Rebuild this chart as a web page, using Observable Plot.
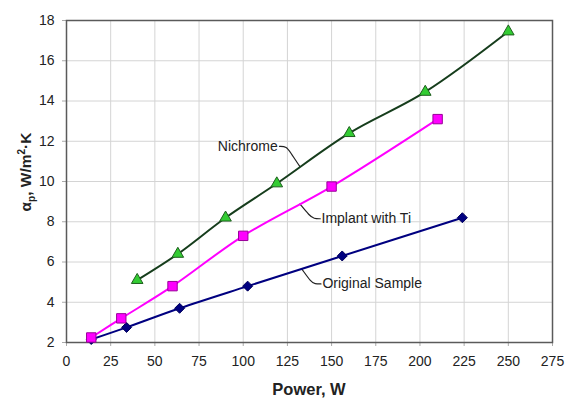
<!DOCTYPE html>
<html>
<head>
<meta charset="utf-8">
<script src="https://cdn.jsdelivr.net/npm/d3@7"></script>
<script src="https://cdn.jsdelivr.net/npm/@observablehq/plot@0.6"></script>
<style>
  html, body { margin: 0; padding: 0; background: #fff; }
</style>
</head>
<body>
<div id="chart"></div>
<script>
// Heat transfer coefficient vs. heating power for three samples
const powerOriginal = [14, 34, 64, 102.5, 156, 224];
const alphaOriginal = [2.15, 2.75, 3.7, 4.8, 6.3, 8.2];

const powerImplant = [14, 31, 60, 100, 150, 210];
const alphaImplant = [2.25, 3.2, 4.8, 7.3, 9.75, 13.1];

const powerNichrome = [40, 63, 90, 119, 160, 203, 250];
const alphaNichrome = [5.1, 6.4, 8.2, 9.9, 12.4, 14.45, 17.45];

const xTicks = [0, 25, 50, 75, 100, 125, 150, 175, 200, 225, 250, 275];
const yTicks = [2, 4, 6, 8, 10, 12, 14, 16, 18];

// Callout labels and their leader lines (data units)
const calloutText = ["Nichrome", "Implant with Ti", "Original Sample"];
const calloutX = [119.5, 144.3, 144.8];
const calloutY = [11.75, 8.15, 4.91];
const leaderX = [
  [120.5, 124.5, 127, 132],
  [132.1, 137.5, 140, 143.6],
  [133.4, 138.5, 140.5, 144]
];
const leaderY = [
  [11.75, 11.75, 11.4, 10.75],
  [8.88, 8.3, 8.15, 8.15],
  [5.62, 5.0, 4.91, 4.91]
];

const zipSeries = (xs, ys) => xs.map((x, i) => ({x, y: ys[i]}));
const original = zipSeries(powerOriginal, alphaOriginal);
const implant = zipSeries(powerImplant, alphaImplant);
const nichrome = zipSeries(powerNichrome, alphaNichrome);
const callouts = calloutText.map((text, i) => ({text, x: calloutX[i], y: calloutY[i]}));
const leaders = leaderX.flatMap((xs, i) => xs.map((x, j) => ({id: i, x, y: leaderY[i][j]})));

const font = "'Liberation Sans', Arial, Helvetica, sans-serif";

const chart = Plot.plot({
  width: 566,
  height: 398,
  marginLeft: 66,
  marginRight: 14,
  marginTop: 20,
  marginBottom: 56,
  style: {fontFamily: font, fontSize: "14px", color: "#222", background: "#fff"},
  x: {domain: [0, 275]},
  y: {domain: [2, 18]},
  marks: [
    Plot.gridX(xTicks, {stroke: "#d4d4d4", strokeOpacity: 1}),
    Plot.gridY(yTicks, {stroke: "#d4d4d4", strokeOpacity: 1}),
    Plot.axisX(xTicks, {tickSize: 4, tickPadding: 10, stroke: "#aaa", fontSize: 14, label: null}),
    Plot.axisY(yTicks, {tickSize: 4, tickPadding: 8, stroke: "#aaa", fontSize: 14, label: null}),
    Plot.frame({stroke: "#5a5a5a", strokeWidth: 1.5}),
    // leader lines of the callouts
    Plot.line(leaders, {x: "x", y: "y", z: "id", stroke: "#222", strokeWidth: 1.2, curve: "basis"}),
    Plot.text(callouts.slice(0, 1), {x: "x", y: "y", text: "text", textAnchor: "end", fontSize: 14, fill: "#222"}),
    Plot.text(callouts.slice(1), {x: "x", y: "y", text: "text", textAnchor: "start", fontSize: 14, fill: "#222"}),
    // series
    Plot.line(original, {x: "x", y: "y", stroke: "#000080", strokeWidth: 2, curve: "catmull-rom"}),
    Plot.line(implant, {x: "x", y: "y", stroke: "#ff00ff", strokeWidth: 2, curve: "catmull-rom"}),
    Plot.line(nichrome, {x: "x", y: "y", stroke: "#163d1c", strokeWidth: 2, curve: "catmull-rom"}),
    Plot.dot(original, {x: "x", y: "y", symbol: "diamond2", r: 4.5, fill: "#000080", stroke: "#00005a", strokeWidth: 1}),
    Plot.dot(implant, {x: "x", y: "y", symbol: "square", r: 5.3, fill: "#ff00ff", stroke: "#990099", strokeWidth: 1}),
    Plot.dot(nichrome, {x: "x", y: "y", symbol: "triangle", r: 4.3, fill: "#33cc33", stroke: "#1d5e1d", strokeWidth: 1})
  ]
});

const svg = d3.select(chart);

// x-axis title
svg.append("text")
  .attr("x", 309)
  .attr("y", 395)
  .attr("text-anchor", "middle")
  .attr("font-family", font)
  .attr("font-weight", "bold")
  .attr("font-size", 16.5)
  .attr("fill", "#222")
  .text("Power, W");

// y-axis title with subscript and superscript
const yTitle = svg.append("text")
  .attr("transform", "translate(31,172) rotate(-90)")
  .attr("text-anchor", "middle")
  .attr("font-family", font)
  .attr("font-weight", "bold")
  .attr("font-size", 15.5)
  .attr("fill", "#222");
yTitle.append("tspan").text("α");
yTitle.append("tspan").attr("font-size", 10).attr("dy", 4).text("p");
yTitle.append("tspan").attr("dy", -4).text(", W/m");
yTitle.append("tspan").attr("font-size", 10).attr("dy", -6).text("2");
yTitle.append("tspan").attr("dy", 6).text("·K");

document.getElementById("chart").appendChild(chart);
</script>
</body>
</html>
